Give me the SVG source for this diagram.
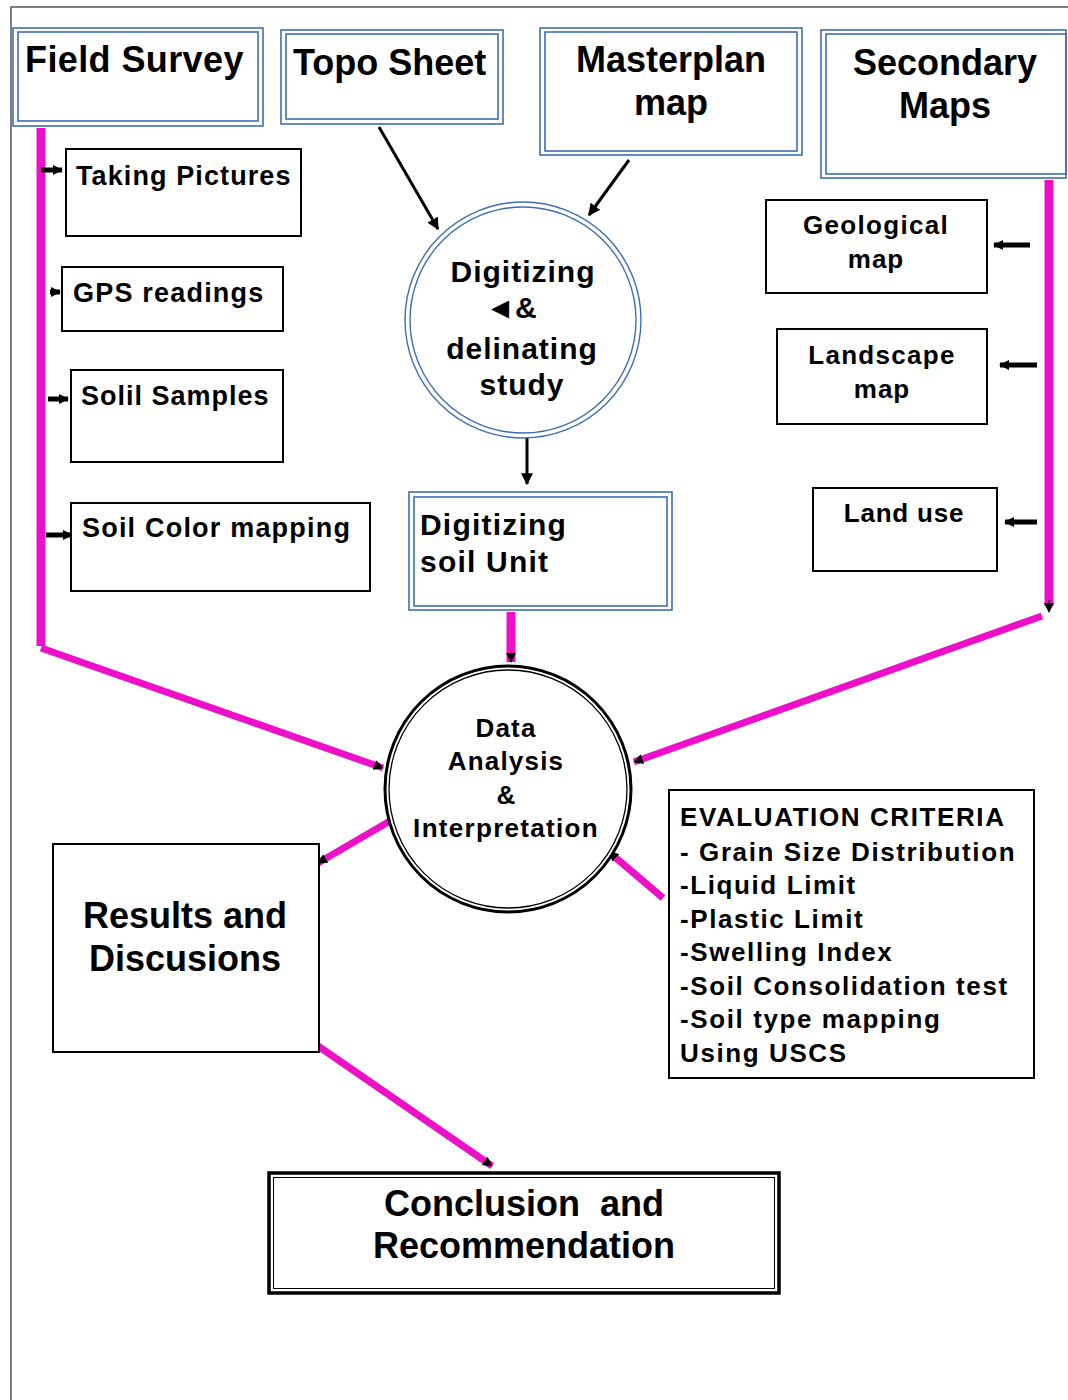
<svg xmlns="http://www.w3.org/2000/svg" width="1068" height="1400" viewBox="0 0 1068 1400">
<style>
text{font-family:"Liberation Sans",Arial,sans-serif;font-weight:bold;fill:#000}
.bo{fill:none;stroke:#3d6fb0;stroke-width:1.6}
.bi{fill:none;stroke:#3d6fb0;stroke-width:1.6}
.bx{fill:#fff;stroke:#000;stroke-width:2}
.mg{stroke:#ee10c8;stroke-width:7;fill:none}
.mv{stroke:#ee10c8;stroke-width:9;fill:none}
.bk{stroke:#000;stroke-width:3;fill:none}
.sa{stroke:#000;stroke-width:5;fill:none}
</style>
<defs>
<marker id="ah" viewBox="0 0 10 10" refX="9" refY="5" markerWidth="12" markerHeight="12" markerUnits="userSpaceOnUse" orient="auto"><path d="M0,0L10,5L0,10z" fill="#000"/></marker>
<marker id="ahs" viewBox="0 0 10 10" refX="9" refY="5" markerWidth="10" markerHeight="10" markerUnits="userSpaceOnUse" orient="auto"><path d="M0,0L10,5L0,10z" fill="#000"/></marker>
</defs>
<rect width="1068" height="1400" fill="#fff"/>
<path d="M11,1400V7H1068" fill="none" stroke="#555" stroke-width="1.5"/>

<g id="connectors">
<path class="mv" d="M41,128V646"/>
<path class="mg" d="M41,648L383,768" marker-end="url(#ahs)"/>
<path class="mv" d="M1049,180V606"/>
<path d="M1049,600v12" stroke="#000" stroke-width="1" marker-end="url(#ahs)"/>
<path class="mg" d="M1042,616L634,762" marker-end="url(#ahs)"/>
<path class="mv" d="M511,612V662" marker-end="url(#ahs)"/>
<path class="mg" d="M390,821L318,863" marker-end="url(#ahs)"/>
<path class="mg" d="M663,898L609,852" marker-end="url(#ahs)"/>
<path class="mg" d="M318,1046L492,1166" marker-end="url(#ahs)"/>
<path class="bk" d="M379,127L438,229" marker-end="url(#ah)"/>
<path class="bk" d="M629,160L589,215" marker-end="url(#ah)"/>
<path class="bk" d="M527,430V484" marker-end="url(#ah)"/>
<path class="sa" d="M41,170H62" marker-end="url(#ahs)"/>
<path class="sa" d="M50,292H60" marker-end="url(#ahs)"/>
<path class="sa" d="M48,399H68" marker-end="url(#ahs)"/>
<path class="sa" d="M46,535H72" marker-end="url(#ahs)"/>
<path class="sa" d="M1030,245H994" marker-end="url(#ahs)"/>
<path class="sa" d="M1037,365H1000" marker-end="url(#ahs)"/>
<path class="sa" d="M1037,522H1005" marker-end="url(#ahs)"/>
</g>

<g id="field-survey">
<rect class="bo" x="13" y="28" width="250" height="98"/>
<rect class="bi" x="18" y="32" width="240" height="89"/>
<text x="25" y="72" font-size="36" letter-spacing="0.4">Field Survey</text>
</g>
<g id="topo-sheet">
<rect class="bo" x="281" y="30" width="222" height="94"/>
<rect class="bi" x="286" y="34" width="212" height="85"/>
<text x="293" y="75" font-size="36">Topo Sheet</text>
</g>
<g id="masterplan-map">
<rect class="bo" x="540" y="28" width="262" height="127"/>
<rect class="bi" x="545" y="32" width="252" height="119"/>
<text x="671" y="72" font-size="36" text-anchor="middle">Masterplan</text>
<text x="671" y="115" font-size="36" text-anchor="middle">map</text>
</g>
<g id="secondary-maps">
<rect class="bo" x="821" y="30" width="245" height="148"/>
<rect class="bi" x="826" y="34" width="240" height="140"/>
<text x="945" y="75" font-size="36" text-anchor="middle">Secondary</text>
<text x="945" y="118" font-size="36" text-anchor="middle">Maps</text>
</g>

<g id="taking-pictures">
<rect class="bx" x="66" y="149" width="235" height="87"/>
<text x="76" y="185" font-size="27" letter-spacing="1.1">Taking Pictures</text>
</g>
<g id="gps-readings">
<rect class="bx" x="62" y="267" width="221" height="64"/>
<text x="73" y="302" font-size="27" letter-spacing="1.2">GPS readings</text>
</g>
<g id="soil-samples">
<rect class="bx" x="71" y="370" width="212" height="92"/>
<text x="81" y="405" font-size="27" letter-spacing="1">Solil Samples</text>
</g>
<g id="soil-color-mapping">
<rect class="bx" x="71" y="503" width="299" height="88"/>
<text x="82" y="537" font-size="27" letter-spacing="1.2">Soil Color mapping</text>
</g>

<g id="digitizing-study">
<circle cx="523" cy="320" r="118" fill="#fff" stroke="#3d6fb0" stroke-width="1.4"/>
<circle cx="523" cy="320" r="113" fill="none" stroke="#3d6fb0" stroke-width="1.4"/>
<text x="523" y="282" font-size="30" text-anchor="middle" letter-spacing="1">Digitizing</text>
<text x="511" y="318" font-size="30" text-anchor="middle">◄&amp;</text>
<text x="522" y="359" font-size="30" text-anchor="middle" letter-spacing="1">delinating</text>
<text x="522" y="395" font-size="30" text-anchor="middle" letter-spacing="1">study</text>
</g>

<g id="digitizing-soil-unit">
<rect class="bo" x="409" y="492" width="263" height="118"/>
<rect class="bi" x="414" y="497" width="253" height="109"/>
<text x="420" y="535" font-size="30" letter-spacing="1.2">Digitizing</text>
<text x="420" y="572" font-size="30" letter-spacing="1.2">soil Unit</text>
</g>

<g id="geological-map">
<rect class="bx" x="766" y="200" width="221" height="93"/>
<text x="876" y="234" font-size="26" text-anchor="middle" letter-spacing="1.3">Geological</text>
<text x="876" y="268" font-size="26" text-anchor="middle" letter-spacing="1">map</text>
</g>
<g id="landscape-map">
<rect class="bx" x="777" y="329" width="210" height="95"/>
<text x="882" y="364" font-size="26" text-anchor="middle" letter-spacing="1.3">Landscape</text>
<text x="882" y="398" font-size="26" text-anchor="middle" letter-spacing="1">map</text>
</g>
<g id="land-use">
<rect class="bx" x="813" y="488" width="184" height="83"/>
<text x="904" y="522" font-size="26" text-anchor="middle" letter-spacing="0.8">Land use</text>
</g>

<g id="data-analysis">
<circle cx="508" cy="789" r="123" fill="#fff" stroke="#000" stroke-width="3"/>
<circle cx="508" cy="789" r="119" fill="none" stroke="#000" stroke-width="1.3"/>
<text x="506" y="737" font-size="26" text-anchor="middle" letter-spacing="1.2">Data</text>
<text x="506" y="770" font-size="26" text-anchor="middle" letter-spacing="1.2">Analysis</text>
<text x="506" y="804" font-size="26" text-anchor="middle">&amp;</text>
<text x="506" y="837" font-size="26" text-anchor="middle" letter-spacing="1.3">Interpretation</text>
</g>

<g id="results-discussions">
<rect class="bx" x="53" y="844" width="266" height="208"/>
<text x="185" y="928" font-size="36" text-anchor="middle">Results and</text>
<text x="185" y="971" font-size="36" text-anchor="middle">Discusions</text>
</g>

<g id="evaluation-criteria">
<rect class="bx" x="669" y="790" width="365" height="288"/>
<text font-size="26" letter-spacing="1.6">
<tspan x="680" y="826">EVALUATION CRITERIA</tspan>
<tspan x="680" y="861">- Grain Size Distribution</tspan>
<tspan x="680" y="894">-Liquid Limit</tspan>
<tspan x="680" y="928">-Plastic Limit</tspan>
<tspan x="680" y="961">-Swelling Index</tspan>
<tspan x="680" y="995">-Soil Consolidation test</tspan>
<tspan x="680" y="1028">-Soil type mapping</tspan>
<tspan x="680" y="1062">Using USCS</tspan>
</text>
</g>

<g id="conclusion">
<rect x="269" y="1173" width="510" height="120" fill="#fff" stroke="#000" stroke-width="3.5"/>
<rect x="273.5" y="1177.5" width="501" height="111" fill="none" stroke="#000" stroke-width="1"/>
<text x="524" y="1216" font-size="36" text-anchor="middle" xml:space="preserve">Conclusion  and</text>
<text x="524" y="1258" font-size="36" text-anchor="middle">Recommendation</text>
</g>
</svg>
